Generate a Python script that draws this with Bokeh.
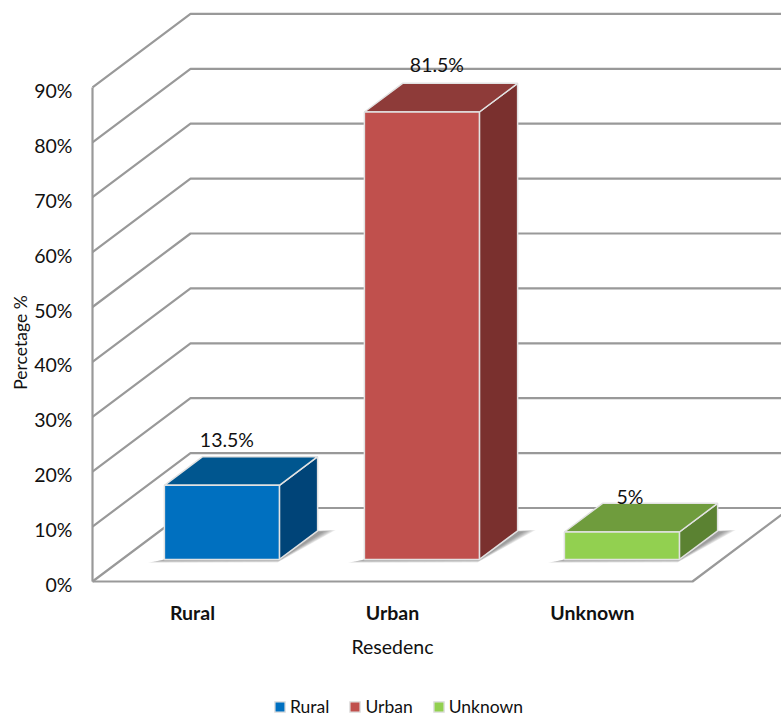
import math

from bokeh.embed import file_html
from bokeh.models import ColumnDataSource, FixedTicker, Legend, LegendItem, LinearAxis, Range1d
from bokeh.plotting import figure
from bokeh.resources import INLINE
from bokeh.core.properties import value

categories = ["Rural", "Urban", "Unknown"]
percentages = [13.5, 81.5, 5.0]
value_labels = ["13.5%", "81.5%", "5%"]
y_ticks = [0, 10, 20, 30, 40, 50, 60, 70, 80, 90]
y_tick_labels = ["0%", "10%", "20%", "30%", "40%", "50%", "60%", "70%", "80%", "90%"]
front_colors = ["#0070C0", "#C0504D", "#92D050"]
top_colors = ["#00568F", "#8E3B39", "#6F9C3D"]
side_colors = ["#004478", "#7A302E", "#5B8232"]
# Pixel nudges of the value labels relative to each box's top
label_dx = [5, 15, 8]
label_dy = [17, 19, 7]

FONT = "Lato"
INK = "#111111"
GRID = "#999999"
PAGE_W, PAGE_H = 781, 719
ORIGIN_X, ORIGIN_Y = 92, 581   # corner of the floor and the left wall, from the page's top left
PX_X, PX_Y = 200.0, 5.49       # pixels per category, pixels per percent
DEPTH_X, DEPTH_Y = 98.0, 73.5  # pixel shift from the front of the floor to the back wall
D0, D1 = 0.30, 0.69            # depth of a box's front and back faces
HALF = 0.2875                  # half width of a box, in categories
LEFT_EDGE = -0.5               # category coordinate of the left wall
TICK_DROP = 3 / PX_Y           # tick labels sit slightly below their wall lines
X_START = LEFT_EDGE - ORIGIN_X / PX_X
X_END = LEFT_EDGE + (PAGE_W - ORIGIN_X) / PX_X
Y_START = -(PAGE_H - ORIGIN_Y) / PX_Y
Y_END = ORIGIN_Y / PX_Y


def project(x, v, d):
    """Oblique projection: category x, value v, depth d to data coordinates."""
    return x + d * DEPTH_X / PX_X, v + d * DEPTH_Y / PX_Y


def poly(points):
    pts = [project(*q) for q in points]
    return [a for a, _ in pts], [b for _, b in pts]


# The frame fills the page, so titles and labels can be placed with the data scales
p = figure(
    frame_width=PAGE_W, frame_height=PAGE_H,
    x_range=(X_START, X_END), y_range=(Y_START, Y_END),
    output_backend="svg", toolbar_location=None, x_axis_location=None, y_axis_location=None,
    min_border_left=0, min_border_right=0, min_border_top=0, min_border_bottom=0,
    outline_line_color=None, background_fill_color="white", border_fill_color="white",
)
p.grid.visible = False
p.extra_y_ranges["tick_labels"] = Range1d(Y_START + TICK_DROP, Y_END + TICK_DROP)

# Side wall and back wall lines at every tick, the floor edges and the left wall edge
xs, ys = [], []
for t in y_ticks:
    wall_x, wall_y = poly([(LEFT_EDGE, t, 0), (LEFT_EDGE, t, 1), (2.5, t, 1)])
    xs.append(wall_x)
    ys.append(wall_y)
for seg in (
    [(LEFT_EDGE, 0, 0), (2.5, 0, 0), (2.5, 0, 1)],
    [(LEFT_EDGE, 0, 0), (LEFT_EDGE, max(y_ticks), 0)],
):
    seg_x, seg_y = poly(seg)
    xs.append(seg_x)
    ys.append(seg_y)
p.multi_line(xs, ys, line_color=GRID, line_width=2.2)

# Soft floor shadows, built from stacked translucent layers that shrink towards the box
for i, cat in enumerate(categories):
    for k in range(7):
        grow = 0.012 * k
        sx, sy = poly([
            (i - HALF - 0.06 + grow * 0.8, 0, D0 - 0.045 + grow * 0.5),
            (i + HALF + 0.01 - grow * 0.1, 0, D0 - 0.04 + grow * 0.5),
            (i + HALF + 0.085 - grow * 0.7, 0, D1 + 0.01 - grow * 0.3),
            (i + HALF - 0.04, 0, D1 - grow * 0.2),
            (i - HALF, 0, D0),
        ])
        p.patch(sx, sy, fill_color="#555555", fill_alpha=0.11, line_color=None)

# Boxes: side and top faces, then the front face
front_renderers = []
STROKE = "#e2e2e2"
for i, v in enumerate(percentages):
    l, r = i - HALF, i + HALF
    sx, sy = poly([(r, 0, D0), (r, 0, D1), (r, v, D1), (r, v, D0)])
    p.patch(sx, sy, fill_color=side_colors[i], line_color=STROKE, line_width=1.5)
    tx, ty = poly([(l, v, D0), (r, v, D0), (r, v, D1), (l, v, D1)])
    p.patch(tx, ty, fill_color=top_colors[i], line_color=STROKE, line_width=1.5)
    fx, fy = poly([(l, 0, D0), (r, 0, D0), (r, v, D0), (l, v, D0)])
    front_renderers.append(
        p.patch(fx, fy, fill_color=front_colors[i], line_color=STROKE, line_width=1.5)
    )

# Value labels above the boxes
lx = [project(i, v, D0)[0] for i, v in enumerate(percentages)]
ly = [project(i, v, D1)[1] for i, v in enumerate(percentages)]
labels = ColumnDataSource(dict(x=lx, y=ly, text=value_labels, dx=label_dx, dy=[-d for d in label_dy]))
p.text(
    "x", "y", text="text", source=labels, x_offset="dx", y_offset="dy",
    text_font=value(FONT), text_font_size="19.5px", text_color=INK,
    text_align="center", text_baseline="middle",
)

# Axes pinned to the corner of the floor; their lines are part of the walls above
ya = LinearAxis(y_range_name="tick_labels", fixed_location=LEFT_EDGE)
ya.ticker = FixedTicker(ticks=y_ticks)
ya.major_label_overrides = {t: s for t, s in zip(y_ticks, y_tick_labels)}
ya.axis_line_color = None
ya.major_tick_line_color = None
ya.minor_tick_line_color = None
ya.major_label_text_font = FONT
ya.major_label_text_font_size = "19.5px"
ya.major_label_text_color = INK
ya.major_label_standoff = 14
p.add_layout(ya, "left")

xa = LinearAxis(fixed_location=0)
xa.ticker = FixedTicker(ticks=list(range(len(categories))))
xa.major_label_overrides = {i: c for i, c in enumerate(categories)}
xa.axis_line_color = None
xa.major_tick_line_color = None
xa.minor_tick_line_color = None
xa.major_label_text_font = FONT
xa.major_label_text_font_size = "19.5px"
xa.major_label_text_font_style = "bold"
xa.major_label_text_color = INK
xa.major_label_standoff = 13
p.add_layout(xa, "below")

# Axis titles, centred on the floor rather than on the page
p.text(
    [1], [(ORIGIN_Y - 646) / PX_Y], text=["Resedenc"],
    text_font=value(FONT), text_font_size="19.5px", text_color=INK,
    text_align="center", text_baseline="middle",
)
p.text(
    [LEFT_EDGE - 72 / PX_X], [(ORIGIN_Y - 342) / PX_Y], text=["Percetage %"], angle=math.pi / 2,
    text_font=value(FONT), text_font_size="17.5px", text_color=INK,
    text_align="center", text_baseline="middle",
)

legend = Legend(
    items=[LegendItem(label=c, renderers=[r]) for c, r in zip(categories, front_renderers)],
    orientation="horizontal", location=(273, 2),
    border_line_color=None, background_fill_alpha=0,
    glyph_width=13, glyph_height=13, label_standoff=4, spacing=19,
    label_text_font=FONT, label_text_font_size="17.5px", label_text_color=INK,
    margin=0, padding=0,
)
p.add_layout(legend, "center")

open("out.html", "w").write(file_html(p, INLINE))
